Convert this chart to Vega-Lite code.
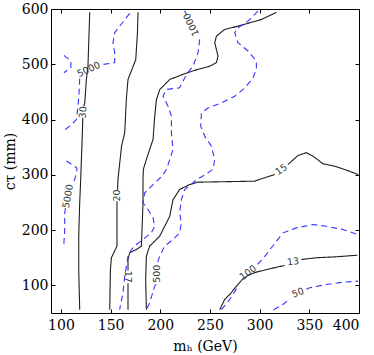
{
  "$schema": "https://vega.github.io/schema/vega-lite/v6.json",
  "width": 308,
  "height": 304,
  "autosize": "none",
  "padding": {"left": 51, "top": 9, "right": 15, "bottom": 42},
  "background": "white",
  "config": {
    "view": {"stroke": null},
    "axis": {
      "domainColor": "black", "domainWidth": 1, "tickColor": "black", "tickWidth": 1,
      "labelFont": "DejaVu Serif", "labelFontSize": 14, "labelColor": "black",
      "titleFont": "DejaVu Serif", "titleFontSize": 14, "titleFontWeight": "normal", "titleColor": "black",
      "grid": false
    }
  },
  "datasets": {
    "lines": [
      {"g":"30a","k":"s","x":129,"y":594},{"g":"30a","k":"s","x":127.2,"y":496.5},{"g":"30a","k":"s","x":125.6,"y":472.5},{"g":"30a","k":"s","x":124,"y":430},{"g":"30a","k":"s","x":123,"y":424},
      {"g":"30b","k":"s","x":122,"y":403},{"g":"30b","k":"s","x":121.6,"y":377},{"g":"30b","k":"s","x":119.9,"y":291.5},{"g":"30b","k":"s","x":118.9,"y":250},{"g":"30b","k":"s","x":117.9,"y":188},{"g":"30b","k":"s","x":117.9,"y":129},{"g":"30b","k":"s","x":118.9,"y":56},
      {"g":"20a","k":"s","x":177.6,"y":594},{"g":"20a","k":"s","x":177,"y":557},{"g":"20a","k":"s","x":175.3,"y":508.6},{"g":"20a","k":"s","x":167.5,"y":472.5},{"g":"20a","k":"s","x":165.8,"y":436},{"g":"20a","k":"s","x":164.2,"y":376},{"g":"20a","k":"s","x":161,"y":352},{"g":"20a","k":"s","x":157.4,"y":291.5},{"g":"20a","k":"s","x":157,"y":273},
      {"g":"20b","k":"s","x":156.4,"y":252},{"g":"20b","k":"s","x":156.4,"y":171},{"g":"20b","k":"s","x":150.8,"y":150},{"g":"20b","k":"s","x":149.8,"y":129},{"g":"20b","k":"s","x":149.1,"y":56},
      {"g":"17a","k":"s","x":316.9,"y":594},{"g":"17a","k":"s","x":301.8,"y":581},{"g":"17a","k":"s","x":278.2,"y":569},{"g":"17a","k":"s","x":264.8,"y":563},{"g":"17a","k":"s","x":256.5,"y":551},{"g":"17a","k":"s","x":254.8,"y":539},{"g":"17a","k":"s","x":258.1,"y":515},{"g":"17a","k":"s","x":256.5,"y":503},{"g":"17a","k":"s","x":249.7,"y":496.5},{"g":"17a","k":"s","x":234.6,"y":489},{"g":"17a","k":"s","x":224.6,"y":483},{"g":"17a","k":"s","x":209.5,"y":472.5},{"g":"17a","k":"s","x":199.4,"y":454},{"g":"17a","k":"s","x":196.1,"y":436},{"g":"17a","k":"s","x":194.4,"y":406},{"g":"17a","k":"s","x":192.7,"y":364},{"g":"17a","k":"s","x":186,"y":328},{"g":"17a","k":"s","x":183,"y":310},{"g":"17a","k":"s","x":182.6,"y":292},{"g":"17a","k":"s","x":182.6,"y":249},{"g":"17a","k":"s","x":181,"y":171},{"g":"17a","k":"s","x":176,"y":165},{"g":"17a","k":"s","x":169.2,"y":159},{"g":"17a","k":"s","x":167.5,"y":147},{"g":"17a","k":"s","x":167.5,"y":127},
      {"g":"17b","k":"s","x":167.5,"y":104},{"g":"17b","k":"s","x":167.5,"y":93},{"g":"17b","k":"s","x":167.5,"y":56},
      {"g":"15a","k":"s","x":186,"y":56},{"g":"15a","k":"s","x":185.3,"y":111},{"g":"15a","k":"s","x":186,"y":153},{"g":"15a","k":"s","x":189.3,"y":171},{"g":"15a","k":"s","x":199.4,"y":189},{"g":"15a","k":"s","x":209.5,"y":225},{"g":"15a","k":"s","x":212.8,"y":255},{"g":"15a","k":"s","x":219.5,"y":273.5},{"g":"15a","k":"s","x":229.6,"y":282.5},{"g":"15a","k":"s","x":238,"y":286.7},{"g":"15a","k":"s","x":295,"y":288.5},{"g":"15a","k":"s","x":301.8,"y":292.8},{"g":"15a","k":"s","x":315.2,"y":300.6},
      {"g":"15b","k":"s","x":328.5,"y":318.7},{"g":"15b","k":"s","x":338.6,"y":335},{"g":"15b","k":"s","x":347,"y":340},{"g":"15b","k":"s","x":353.7,"y":333.7},{"g":"15b","k":"s","x":363.8,"y":320},{"g":"15b","k":"s","x":375.5,"y":315.6},{"g":"15b","k":"s","x":385.6,"y":309.6},{"g":"15b","k":"s","x":399,"y":300.6},
      {"g":"13a","k":"s","x":259.8,"y":56},{"g":"13a","k":"s","x":264.8,"y":74.5},{"g":"13a","k":"s","x":269.9,"y":83.5},{"g":"13a","k":"s","x":276.6,"y":98.5},{"g":"13a","k":"s","x":283.2,"y":112},{"g":"13a","k":"s","x":290,"y":119.7},{"g":"13a","k":"s","x":296.7,"y":124},{"g":"13a","k":"s","x":310.1,"y":130},{"g":"13a","k":"s","x":325.2,"y":136},
      {"g":"13b","k":"s","x":342,"y":146.8},{"g":"13b","k":"s","x":357.1,"y":150},{"g":"13b","k":"s","x":377.3,"y":151.7},{"g":"13b","k":"s","x":398.4,"y":154.6},
      {"g":"1000a","k":"d","x":224.5,"y":597},{"g":"1000a","k":"d","x":226.5,"y":589},
      {"g":"1000b","k":"d","x":239.7,"y":545},{"g":"1000b","k":"d","x":238,"y":521},{"g":"1000b","k":"d","x":232.9,"y":496.5},{"g":"1000b","k":"d","x":226.3,"y":481.5},{"g":"1000b","k":"d","x":219.5,"y":457.4},{"g":"1000b","k":"d","x":206.2,"y":454.4},{"g":"1000b","k":"d","x":202.7,"y":442.3},{"g":"1000b","k":"d","x":207.8,"y":424.2},{"g":"1000b","k":"d","x":211.2,"y":406.1},{"g":"1000b","k":"d","x":211.2,"y":376},{"g":"1000b","k":"d","x":212.8,"y":345.8},{"g":"1000b","k":"d","x":206.2,"y":309.6},{"g":"1000b","k":"d","x":201.4,"y":297},{"g":"1000b","k":"d","x":196.1,"y":288},{"g":"1000b","k":"d","x":184.3,"y":267.5},{"g":"1000b","k":"d","x":182.6,"y":249.4},{"g":"1000b","k":"d","x":187.6,"y":237.3},{"g":"1000b","k":"d","x":192.7,"y":222.3},{"g":"1000b","k":"d","x":194.4,"y":207.1},{"g":"1000b","k":"d","x":191,"y":195.1},{"g":"1000b","k":"d","x":182.6,"y":183},{"g":"1000b","k":"d","x":176,"y":174},{"g":"1000b","k":"d","x":170.9,"y":164.9},{"g":"1000b","k":"d","x":167.5,"y":152.8},{"g":"1000b","k":"d","x":165.9,"y":134.7},{"g":"1000b","k":"d","x":164.2,"y":116.6},{"g":"1000b","k":"d","x":162.5,"y":86.6},{"g":"1000b","k":"d","x":159.1,"y":56.3},
      {"g":"500a","k":"d","x":298.3,"y":596},{"g":"500a","k":"d","x":288.3,"y":578},{"g":"500a","k":"d","x":278.2,"y":566},{"g":"500a","k":"d","x":274.9,"y":557},{"g":"500a","k":"d","x":278.2,"y":539},{"g":"500a","k":"d","x":288.3,"y":524},{"g":"500a","k":"d","x":296.7,"y":506},{"g":"500a","k":"d","x":296.7,"y":491},{"g":"500a","k":"d","x":293.3,"y":475.5},{"g":"500a","k":"d","x":285,"y":457},{"g":"500a","k":"d","x":274.9,"y":442},{"g":"500a","k":"d","x":261.5,"y":430},{"g":"500a","k":"d","x":248,"y":421},{"g":"500a","k":"d","x":241.4,"y":412},{"g":"500a","k":"d","x":240.7,"y":388},{"g":"500a","k":"d","x":244.7,"y":370},{"g":"500a","k":"d","x":251.4,"y":352},{"g":"500a","k":"d","x":254.8,"y":328},{"g":"500a","k":"d","x":253.1,"y":310},{"g":"500a","k":"d","x":245,"y":300},{"g":"500a","k":"d","x":238,"y":293},{"g":"500a","k":"d","x":224.6,"y":273.5},{"g":"500a","k":"d","x":221.2,"y":255},{"g":"500a","k":"d","x":219.5,"y":231},{"g":"500a","k":"d","x":221.2,"y":213},{"g":"500a","k":"d","x":219.5,"y":195},{"g":"500a","k":"d","x":212.8,"y":183},{"g":"500a","k":"d","x":204.4,"y":171},{"g":"500a","k":"d","x":199.4,"y":153},{"g":"500a","k":"d","x":197,"y":140},
      {"g":"500b","k":"d","x":196,"y":102},{"g":"500b","k":"d","x":194.4,"y":98.5},{"g":"500b","k":"d","x":189.3,"y":68.5},{"g":"500b","k":"d","x":186,"y":56},
      {"g":"100a","k":"d","x":261.5,"y":56},{"g":"100a","k":"d","x":269.9,"y":74.5},{"g":"100a","k":"d","x":277,"y":95},
      {"g":"100b","k":"d","x":298,"y":138},{"g":"100b","k":"d","x":306.8,"y":156},{"g":"100b","k":"d","x":316.9,"y":180},{"g":"100b","k":"d","x":323.5,"y":195},{"g":"100b","k":"d","x":337,"y":204},{"g":"100b","k":"d","x":353.7,"y":210},{"g":"100b","k":"d","x":367.2,"y":207},{"g":"100b","k":"d","x":383.9,"y":201},{"g":"100b","k":"d","x":399,"y":192},
      {"g":"50a","k":"d","x":314,"y":56},{"g":"50a","k":"d","x":323.5,"y":65.4},{"g":"50a","k":"d","x":330,"y":75},
      {"g":"50b","k":"d","x":347,"y":93},{"g":"50b","k":"d","x":350.4,"y":95.6},{"g":"50b","k":"d","x":367.2,"y":101.6},{"g":"50b","k":"d","x":383.9,"y":105.8},{"g":"50b","k":"d","x":399,"y":107.6},
      {"g":"5000a","k":"d","x":169.2,"y":592},{"g":"5000a","k":"d","x":159.1,"y":569},{"g":"5000a","k":"d","x":154.1,"y":557},{"g":"5000a","k":"d","x":152.4,"y":539},{"g":"5000a","k":"d","x":154.1,"y":521},{"g":"5000a","k":"d","x":154.1,"y":503},{"g":"5000a","k":"d","x":142.3,"y":499.6},
      {"g":"5000b","k":"d","x":118.9,"y":474},{"g":"5000b","k":"d","x":118.2,"y":448},{"g":"5000b","k":"d","x":117.2,"y":424},{"g":"5000b","k":"d","x":115.6,"y":400},{"g":"5000b","k":"d","x":108.8,"y":388},{"g":"5000b","k":"d","x":102.1,"y":379},
      {"g":"5000c","k":"d","x":103,"y":516},{"g":"5000c","k":"d","x":110,"y":506},{"g":"5000c","k":"d","x":110,"y":494},{"g":"5000c","k":"d","x":103,"y":484.6},
      {"g":"5000d","k":"d","x":105.5,"y":325},{"g":"5000d","k":"d","x":115.6,"y":313},{"g":"5000d","k":"d","x":116.2,"y":310},{"g":"5000d","k":"d","x":113.9,"y":291.5},{"g":"5000d","k":"d","x":111,"y":283},
      {"g":"5000e","k":"d","x":104.5,"y":240},{"g":"5000e","k":"d","x":103.8,"y":231},{"g":"5000e","k":"d","x":103.8,"y":201},{"g":"5000e","k":"d","x":102.8,"y":171}
    ],
    "labels": [
      {"id":"30","lab":"30","x":122.3,"y":413},
      {"id":"20","lab":"20","x":156,"y":262.5},
      {"id":"17","lab":"17","x":167.5,"y":115.5},
      {"id":"15","lab":"15","x":321.9,"y":309.6},
      {"id":"13","lab":"13","x":333.6,"y":142.7},
      {"id":"1000","lab":"1000","x":231.3,"y":572},
      {"id":"500","lab":"500","x":196.9,"y":121},
      {"id":"100","lab":"100","x":288.3,"y":122.8},
      {"id":"50","lab":"50","x":338.6,"y":86.6},
      {"id":"5000a","lab":"5000","x":127.9,"y":490.6},
      {"id":"5000b","lab":"5000","x":107.1,"y":261.4}
    ]
  },
  "resolve": {"axis": {"x": "independent", "y": "independent"}},
  "layer": [
    {
      "data": {"name": "lines"},
      "mark": {"type": "line", "strokeWidth": 1.1, "interpolate": "linear"},
      "encoding": {
        "x": {"field": "x", "type": "quantitative", "scale": {"domain": [90, 400], "nice": false, "zero": false},
              "axis": {"orient": "bottom", "values": [100,150,200,250,300,350,400], "title": "mₕ (GeV)", "tickSize": -4, "labelPadding": 9, "titlePadding": 7}},
        "y": {"field": "y", "type": "quantitative", "scale": {"domain": [50, 600], "nice": false, "zero": false},
              "axis": {"orient": "left", "values": [100,200,300,400,500,600], "title": "cτ (mm)", "tickSize": -4, "labelPadding": 7, "titlePadding": 4}},
        "detail": {"field": "g"},
        "color": {"field": "k", "type": "nominal", "scale": {"domain": ["s","d"], "range": ["#1e1e1e", "#3535ff"]}, "legend": null},
        "strokeDash": {"field": "k", "type": "nominal", "scale": {"domain": ["s","d"], "range": [[1,0],[6,4]]}, "legend": null},
        "order": {"value": null}
      }
    },
    {
      "data": {"name": "labels"},
      "transform": [{"filter": "datum.id == '30'"}],
      "mark": {"type": "text", "angle": -85, "font": "DejaVu Sans", "fontSize": 9.5, "color": "#333"},
      "encoding": {
        "x": {"field": "x", "type": "quantitative", "axis": {"orient": "top", "values": [100,150,200,250,300,350,400], "labels": false, "title": null, "tickSize": -4}},
        "y": {"field": "y", "type": "quantitative", "axis": {"orient": "right", "values": [100,200,300,400,500,600], "labels": false, "title": null, "tickSize": -4}},
        "text": {"field": "lab"}
      }
    },
    {"data": {"name": "labels"}, "transform": [{"filter": "datum.id == '20'"}],
     "mark": {"type": "text", "angle": -90, "font": "DejaVu Sans", "fontSize": 9.5, "color": "#333"},
     "encoding": {"x": {"field": "x", "type": "quantitative", "axis": null}, "y": {"field": "y", "type": "quantitative", "axis": null}, "text": {"field": "lab"}}},
    {"data": {"name": "labels"}, "transform": [{"filter": "datum.id == '17'"}],
     "mark": {"type": "text", "angle": 90, "font": "DejaVu Sans", "fontSize": 9.5, "color": "#333"},
     "encoding": {"x": {"field": "x", "type": "quantitative", "axis": null}, "y": {"field": "y", "type": "quantitative", "axis": null}, "text": {"field": "lab"}}},
    {"data": {"name": "labels"}, "transform": [{"filter": "datum.id == '15'"}],
     "mark": {"type": "text", "angle": -34, "font": "DejaVu Sans", "fontSize": 9.5, "color": "#333"},
     "encoding": {"x": {"field": "x", "type": "quantitative", "axis": null}, "y": {"field": "y", "type": "quantitative", "axis": null}, "text": {"field": "lab"}}},
    {"data": {"name": "labels"}, "transform": [{"filter": "datum.id == '13'"}],
     "mark": {"type": "text", "angle": -8, "font": "DejaVu Sans", "fontSize": 9.5, "color": "#333"},
     "encoding": {"x": {"field": "x", "type": "quantitative", "axis": null}, "y": {"field": "y", "type": "quantitative", "axis": null}, "text": {"field": "lab"}}},
    {"data": {"name": "labels"}, "transform": [{"filter": "datum.id == '1000'"}],
     "mark": {"type": "text", "angle": 245, "font": "DejaVu Sans", "fontSize": 9.5, "color": "#333"},
     "encoding": {"x": {"field": "x", "type": "quantitative", "axis": null}, "y": {"field": "y", "type": "quantitative", "axis": null}, "text": {"field": "lab"}}},
    {"data": {"name": "labels"}, "transform": [{"filter": "datum.id == '500'"}],
     "mark": {"type": "text", "angle": -90, "font": "DejaVu Sans", "fontSize": 9.5, "color": "#333"},
     "encoding": {"x": {"field": "x", "type": "quantitative", "axis": null}, "y": {"field": "y", "type": "quantitative", "axis": null}, "text": {"field": "lab"}}},
    {"data": {"name": "labels"}, "transform": [{"filter": "datum.id == '100'"}],
     "mark": {"type": "text", "angle": -37, "font": "DejaVu Sans", "fontSize": 9.5, "color": "#333"},
     "encoding": {"x": {"field": "x", "type": "quantitative", "axis": null}, "y": {"field": "y", "type": "quantitative", "axis": null}, "text": {"field": "lab"}}},
    {"data": {"name": "labels"}, "transform": [{"filter": "datum.id == '50'"}],
     "mark": {"type": "text", "angle": -20, "font": "DejaVu Sans", "fontSize": 9.5, "color": "#333"},
     "encoding": {"x": {"field": "x", "type": "quantitative", "axis": null}, "y": {"field": "y", "type": "quantitative", "axis": null}, "text": {"field": "lab"}}},
    {"data": {"name": "labels"}, "transform": [{"filter": "datum.id == '5000a'"}],
     "mark": {"type": "text", "angle": -25, "font": "DejaVu Sans", "fontSize": 9.5, "color": "#333"},
     "encoding": {"x": {"field": "x", "type": "quantitative", "axis": null}, "y": {"field": "y", "type": "quantitative", "axis": null}, "text": {"field": "lab"}}},
    {"data": {"name": "labels"}, "transform": [{"filter": "datum.id == '5000b'"}],
     "mark": {"type": "text", "angle": -80, "font": "DejaVu Sans", "fontSize": 9.5, "color": "#333"},
     "encoding": {"x": {"field": "x", "type": "quantitative", "axis": null}, "y": {"field": "y", "type": "quantitative", "axis": null}, "text": {"field": "lab"}}}
  ]
}
